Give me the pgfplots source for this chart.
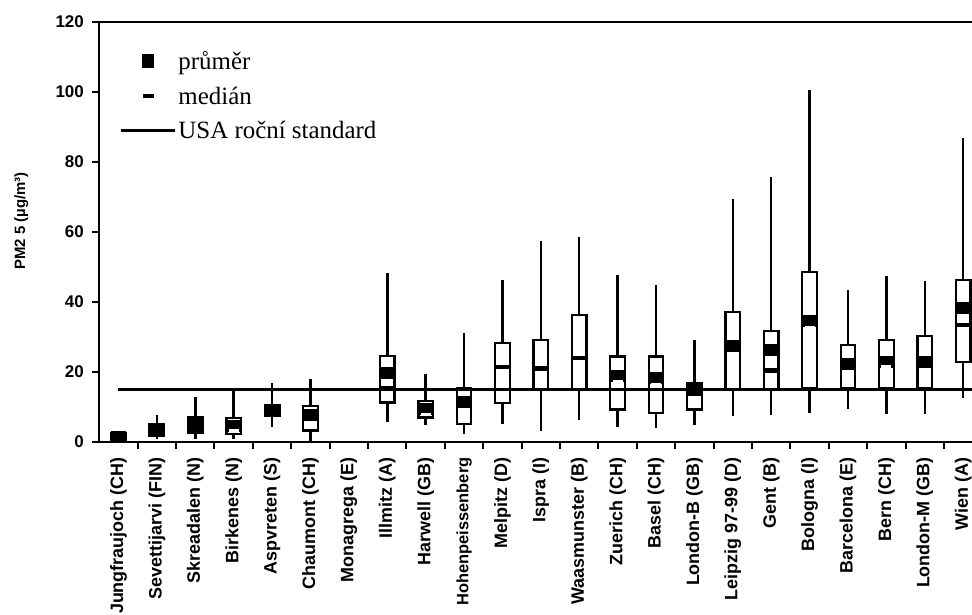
\documentclass[border=0pt]{standalone}
\usepackage{fontspec}
\setmainfont{Liberation Serif}
\setsansfont{Liberation Sans}
\usepackage{pgfplots}
\pgfplotsset{compat=1.18}
\usepgfplotslibrary{statistics}

\pgfdeclareplotmark{meanbox}{\pgfpathrectangle{\pgfpoint{-7.5bp}{-6bp}}{\pgfpoint{15bp}{12bp}}\pgfusepathqfill}
\pgfdeclareplotmark{medblack}{\pgfpathrectangle{\pgfpoint{-7.3bp}{-2.2bp}}{\pgfpoint{14.6bp}{4.4bp}}\pgfusepathqfill}
\pgfdeclareplotmark{medwhite}{\pgfpathrectangle{\pgfpoint{-5bp}{-1.5bp}}{\pgfpoint{10bp}{3bp}}\pgfusepathqfill}

\pgfplotsset{
  bx/.style={black, line width=2.5bp,
    boxplot/draw direction=y,
    boxplot/box extend=0.38,
    boxplot/whisker extend=0,
    boxplot/every box/.style={draw=black, fill=white, line width=2.3bp},
    boxplot/every whisker/.style={line width=2.5bp},
    boxplot/every median/.style={draw=none}},
}
\newcommand{\bx}[6]{\addplot[bx, boxplot prepared={draw position=#1, lower whisker=#2, lower quartile=#3, median=#4, upper quartile=#5, upper whisker=#6}] coordinates {};}

\begin{document}
\begin{tikzpicture}
\begin{axis}[
  name=ax,
  scale only axis, width=872.7bp, height=420bp,
  xmin=-0.5, xmax=22.23, ymin=0, ymax=120,
  clip=false,
  axis x line*=bottom, axis y line*=left,
  axis line style={line width=2.3bp},
  ytick={0,20,...,120},
  xtick={0,...,22},
  xticklabels={Jungfraujoch (CH), Sevettijarvi (FIN), Skreadalen (N), Birkenes (N), Aspvreten (S), Chaumont (CH), Monagrega (E), Illmitz (A), Harwell (GB), {\fontsize{16.5}{18}\selectfont Hohenpeissenberg}, Melpitz (D), Ispra (I), Waasmunster (B), Zuerich (CH), Basel (CH), London-B (GB), Leipzig 97-99 (D), Gent (B), Bologna (I), Barcelona (E), Bern (CH), London-M (GB), Wien (A)},
  minor xtick={0.5,1.5,...,21.5},
  tick align=outside,
  major tick length=7bp, minor tick length=7bp,
  every major x tick/.style={draw=none},
  tick style={line width=2bp, black},
  /pgf/number format/assume math mode=true,
  xticklabel style={yshift=-5bp, rotate=90, anchor=east, font=\sffamily\bfseries\fontsize{18}{20}\selectfont},
  yticklabel style={xshift=-5bp, font=\sffamily\bfseries\fontsize{17}{19}\selectfont},
  ylabel={PM2 5 (µg/m³)},
  ylabel style={at={([xshift=-78bp,yshift=11bp]axis description cs:0,0.5)}, anchor=center, rotate=0, font=\sffamily\bfseries\fontsize{15}{17}\selectfont},
  legend style={at={(axis description cs:0,1)}, anchor=north west, xshift=20bp, yshift=-27bp,
    draw=none, fill=none, font=\rmfamily\fontsize{25}{28}\selectfont, row sep=12bp, inner sep=0pt,
    nodes={inner xsep=2bp}},
  legend cell align=left,
]
\addlegendimage{legend image code/.code={\path (0bp,0bp) (54bp,0bp); \fill[black] (21.5bp,-6bp) rectangle (32.5bp,7bp);}}
\addlegendentry{průměr}
\addlegendimage{legend image code/.code={\path (0bp,0bp) (54bp,0bp); \fill[black] (22bp,-1.5bp) rectangle (32bp,1.5bp);}}
\addlegendentry{medián}
\addlegendimage{legend image code/.code={\draw[line width=3bp] (0bp,0bp) -- (54bp,0bp);}}
\addlegendentry{USA roční standard}

% position, lower whisker, q1, median, q3, upper whisker
\bx{0}{0.2}{0.5}{1.5}{2.5}{2.8}
\bx{1}{0.9}{1.7}{3.5}{5.0}{7.7}
\bx{2}{0.9}{2.7}{4.8}{7.0}{12.9}
\bx{3}{0.9}{2.3}{3.2}{6.8}{15.0}
\bx{4}{4.4}{7.6}{9.0}{10.6}{16.9}
\bx{5}{0.3}{3.3}{7.8}{10.3}{17.9}
\bx{7}{5.8}{11.3}{15.5}{24.5}{48.4}
\bx{8}{4.8}{7.0}{8.0}{11.8}{19.4}
\bx{9}{2.3}{5.1}{11.5}{15.3}{31.2}
\bx{10}{5.1}{11.1}{21.5}{28.2}{46.3}
\bx{11}{3.2}{15.1}{21.0}{29.1}{57.5}
\bx{12}{6.3}{15.1}{24.0}{36.3}{58.5}
\bx{13}{4.4}{9.3}{17.3}{24.4}{47.7}
\bx{14}{3.9}{8.2}{16.3}{24.4}{44.9}
\bx{15}{4.9}{9.3}{14.9}{16.8}{29.1}
\bx{16}{7.4}{15.0}{27.4}{37.1}{69.3}
\bx{17}{7.7}{15.0}{20.4}{31.7}{75.8}
\bx{18}{8.2}{15.3}{32.8}{48.5}{100.6}
\bx{19}{9.3}{15.3}{22.3}{27.7}{43.4}
\bx{20}{7.9}{15.3}{21.5}{29.1}{47.4}
\bx{21}{7.9}{15.3}{22.9}{30.3}{46.0}
\bx{22}{12.5}{22.8}{33.4}{46.3}{86.8}

% USA annual standard
\addplot[black, line width=3.2bp] coordinates {(0,15) (22.23,15)};

% means
\addplot[black, only marks, mark=meanbox] coordinates {
(0,1.5) (1,3.5) (2,4.8) (3,4.6) (4,9.0) (5,7.8) (7,19.7) (8,9.4) (9,11.5)
(13,18.9) (14,18.2) (15,14.9) (16,27.4) (17,26.3) (18,34.7) (19,22.3)
(20,22.9) (21,22.9) (22,38.4)};

% medians
\addplot[black, only marks, mark=medblack] coordinates {
(7,15.5) (10,21.5) (11,21.0) (12,24.0) (17,20.4) (22,33.4)};
\addplot[white, only marks, mark=medwhite] coordinates {
(3,3.2) (8,8.0) (13,17.3) (14,16.3) (18,32.8) (20,21.5)};

\draw[line width=2.3bp] (rel axis cs:0,1) -- (rel axis cs:1,1);
\end{axis}
\pgfresetboundingbox
\path[use as bounding box] ([shift={(-99.3bp,-173bp)}]ax.south west) rectangle ([shift={(872.7bp,442bp)}]ax.south west);
\end{tikzpicture}
\end{document}
